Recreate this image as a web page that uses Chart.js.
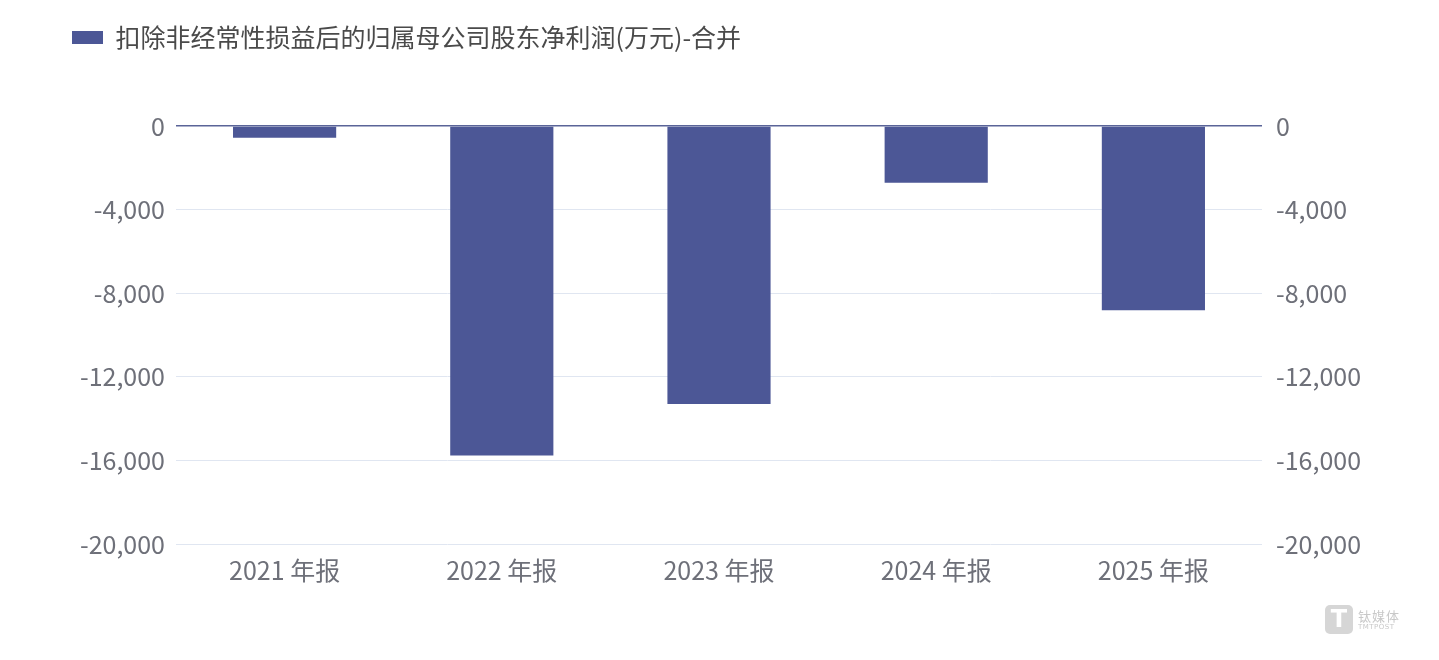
<!DOCTYPE html>
<html>
<head>
<meta charset="utf-8">
<script src="https://cdn.jsdelivr.net/npm/chart.js@4.4.1/dist/chart.umd.min.js"></script>
<style>
  html, body { margin: 0; padding: 0; background: #fff; }
  #wrap { position: relative; width: 1439px; height: 660px; }
  #c { display: block; }
  #wm { position: absolute; left: 1325px; top: 605px; display: flex; align-items: center; color: #c4c4c4; font-family: "Noto Sans CJK SC", sans-serif; }
  #wm .logo { width: 28px; height: 29px; border-radius: 5px; background: #d6d6d6; color: #fff; font: bold 24px "DejaVu Sans", sans-serif; text-align: center; line-height: 29px; }
  #wm .txt { margin-left: 5px; display: flex; flex-direction: column; }
  #wm .cn { font-size: 13px; line-height: 15px; letter-spacing: 1px; color: #c8c8c8; }
  #wm .en { font-size: 7px; line-height: 9px; font-family: "DejaVu Sans", sans-serif; color: #c8c8c8; letter-spacing: 0.5px; }
</style>
</head>
<body>
<div id="wrap">
  <canvas id="c" width="1439" height="660"></canvas>
  <div id="wm"><div class="logo">T</div><div class="txt"><div class="cn">钛媒体</div><div class="en">TMTPOST</div></div></div>
</div>
<script>
const categories = ['2021 年报', '2022 年报', '2023 年报', '2024 年报', '2025 年报'];
const seriesName = '扣除非经常性损益后的归属母公司股东净利润(万元)-合并';
const seriesValues = [-560, -15770, -13300, -2710, -8810];
const tickValues = [0, -4000, -8000, -12000, -16000, -20000];

const FONT = '"Noto Sans CJK SC", "Noto Sans", sans-serif';
const tickFont = { family: FONT, size: 25 };
const tickColor = '#6e7079';

const legendHeight = {
  id: 'legendHeight',
  beforeInit(chart) {
    const orig = chart.legend.fit;
    chart.legend.fit = function () {
      orig.bind(chart.legend)();
      this.height = 126 - 15;
    };
  }
};

new Chart(document.getElementById('c'), {
  type: 'bar',
  data: {
    labels: categories,
    datasets: [{
      label: seriesName,
      data: seriesValues,
      backgroundColor: '#4c5796',
      borderWidth: 0,
      categoryPercentage: 1,
      barPercentage: 0.475,
      yAxisID: 'y'
    }]
  },
  options: {
    responsive: false,
    animation: false,
    layout: { padding: { left: 62, top: 15, right: 0, bottom: 0 } },
    plugins: {
      tooltip: { enabled: false },
      legend: {
        display: true,
        position: 'top',
        align: 'start',
        labels: {
          boxWidth: 31,
          boxHeight: 13,
          padding: 10,
          color: '#4a4a4a',
          font: { family: FONT, size: 25 }
        }
      }
    },
    scales: {
      x: {
        grid: { display: false, drawTicks: false },
        border: { display: false },
        ticks: { color: tickColor, font: tickFont, padding: 11 },
        afterFit(s) { s.height = 116; }
      },
      y: {
        position: 'left',
        min: -20000,
        max: 0,
        afterBuildTicks(s) { s.ticks = tickValues.map(v => ({ value: v })); },
        grid: {
          drawTicks: false,
          color: c => (c.tick && c.tick.value === 0) ? '#5a6498' : '#e0e6f1',
          lineWidth: c => (c.tick && c.tick.value === 0) ? 1.5 : 1
        },
        border: { display: false },
        ticks: {
          color: tickColor, font: tickFont, padding: 11,
          callback: v => v.toLocaleString('en-US')
        },
        afterFit(s) { s.width = 114; }
      },
      y2: {
        position: 'right',
        min: -20000,
        max: 0,
        afterBuildTicks(s) { s.ticks = tickValues.map(v => ({ value: v })); },
        grid: { display: false, drawTicks: false },
        border: { display: false },
        ticks: {
          color: tickColor, font: tickFont, padding: 14,
          callback: v => v.toLocaleString('en-US')
        },
        afterFit(s) { s.width = 177; }
      }
    }
  },
  plugins: [legendHeight]
});
</script>
</body>
</html>
